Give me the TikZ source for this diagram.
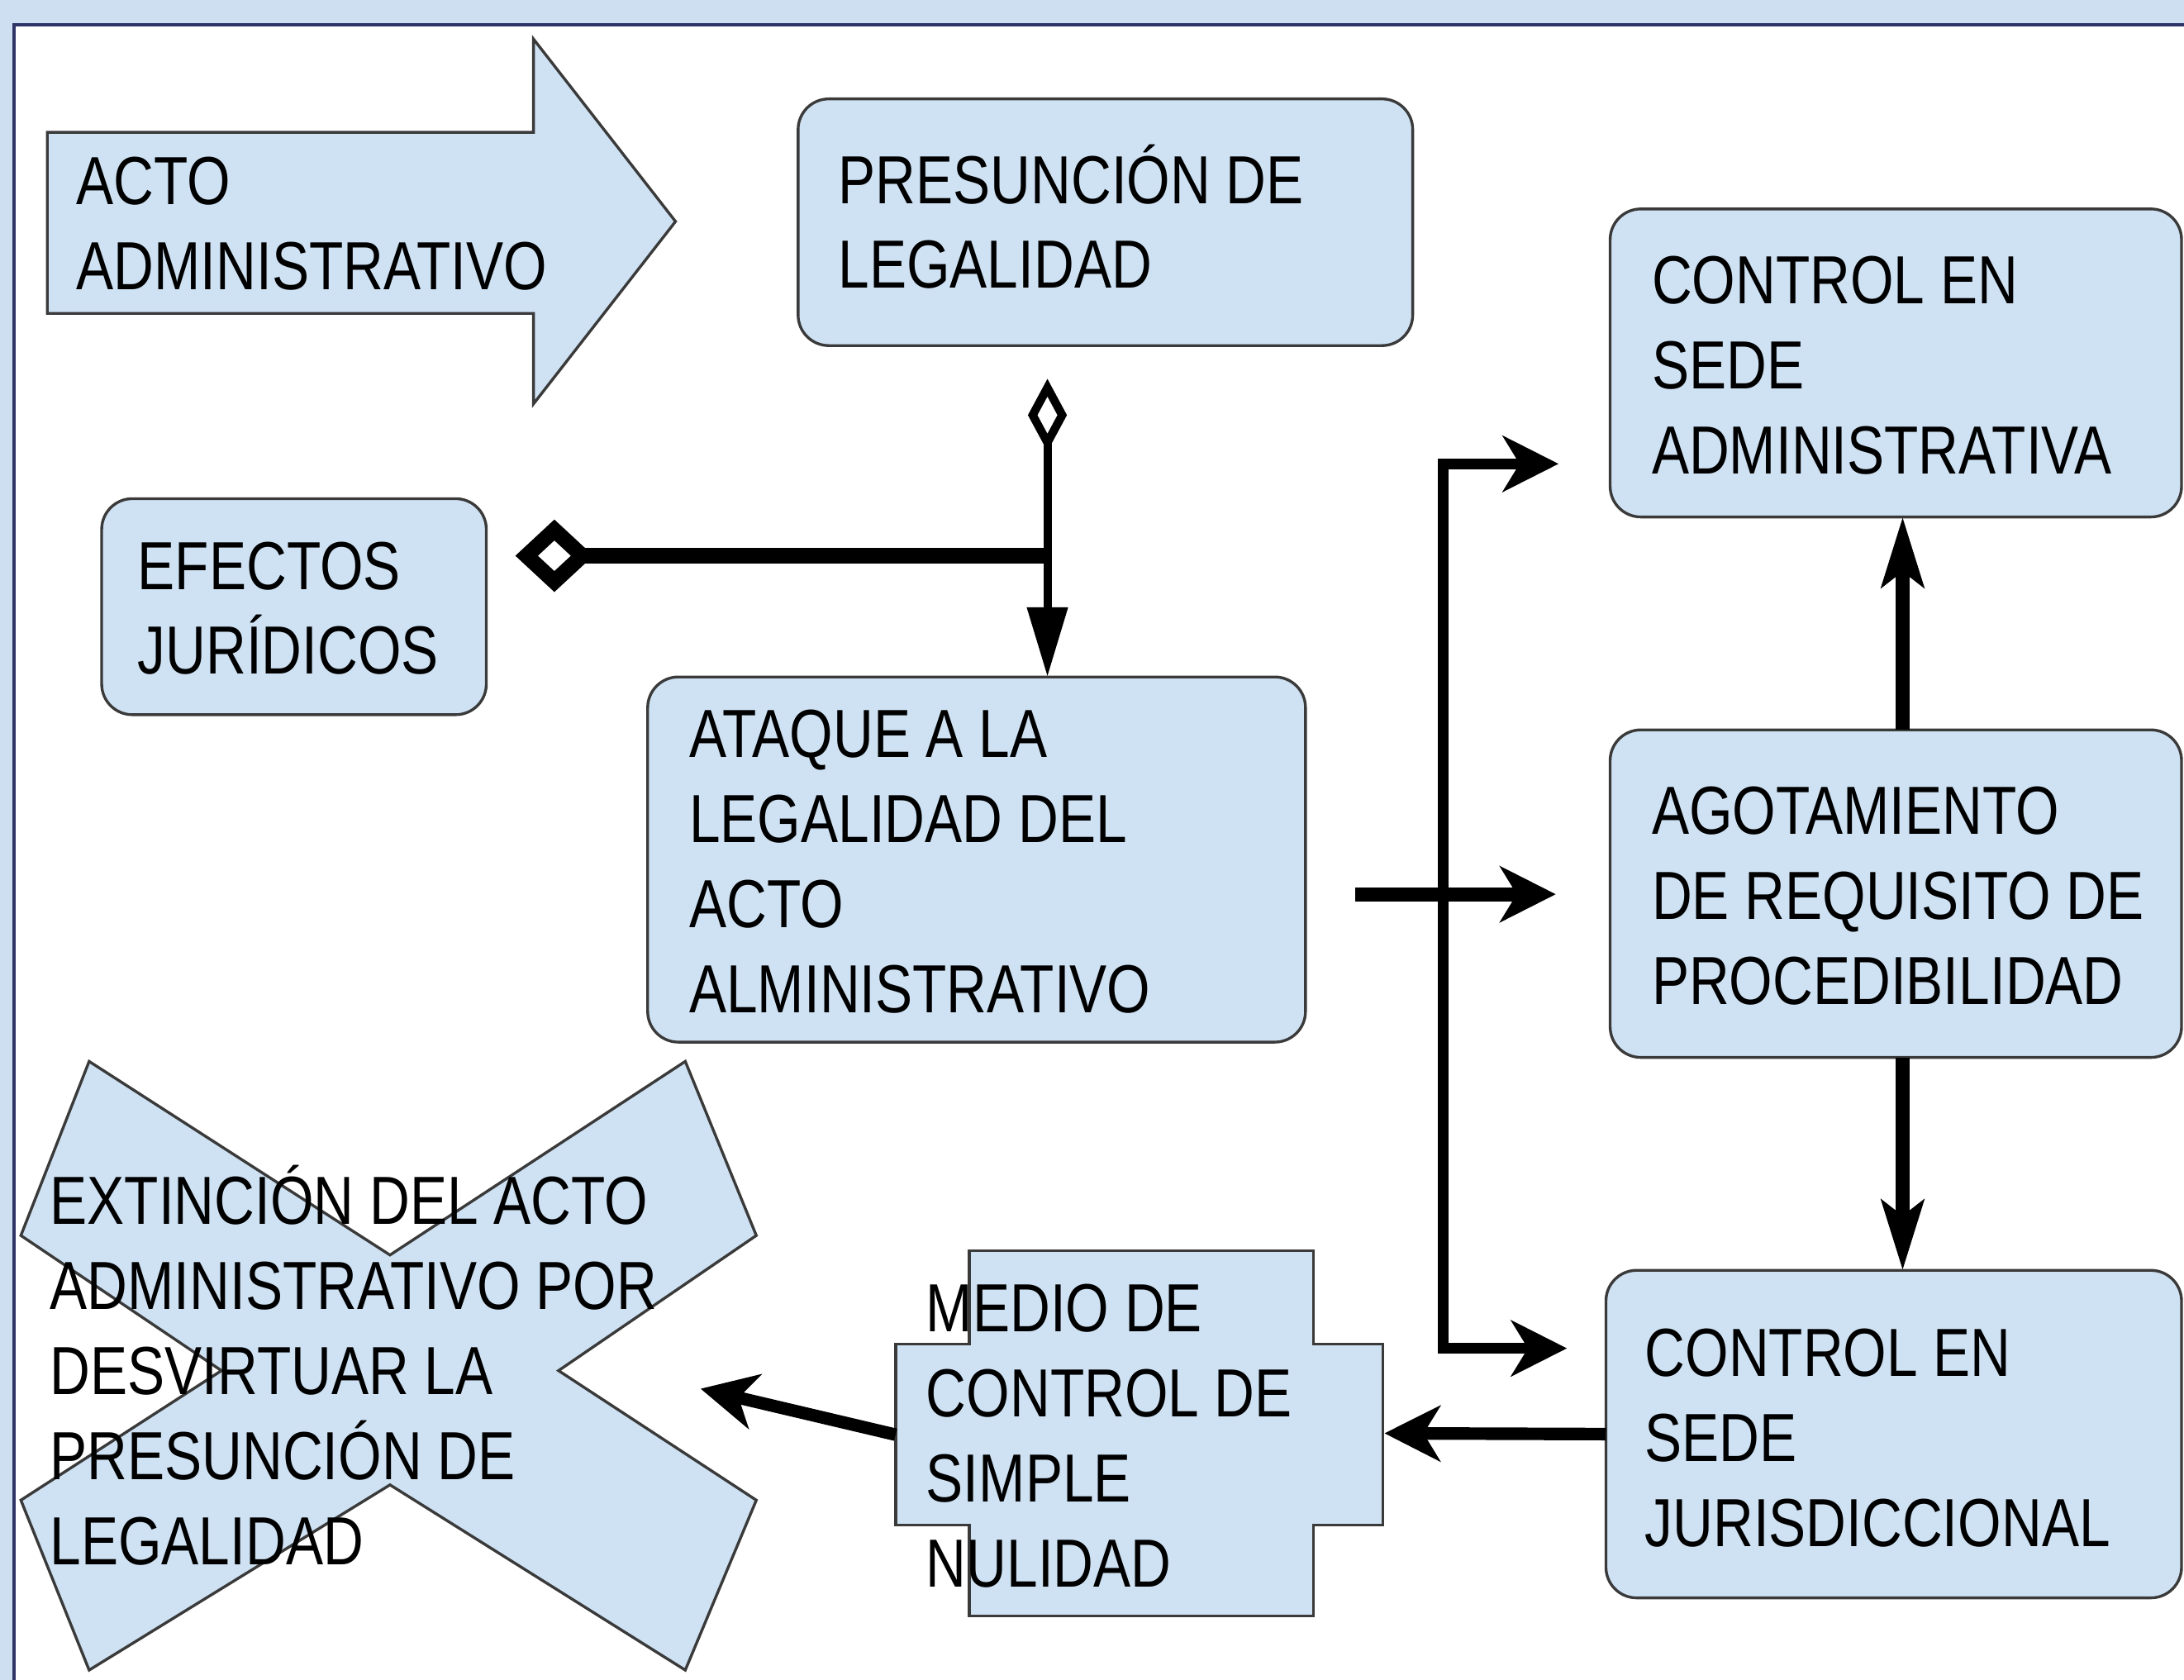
\documentclass[tikz,border=0pt]{standalone}
\usepackage{fontspec}
\setmainfont{Liberation Sans}[FakeStretch=0.82]
\usetikzlibrary{arrows.meta,calc}
\definecolor{boxfill}{HTML}{CFE2F3}
\definecolor{boxline}{HTML}{3A3A3A}
\definecolor{bgblue}{HTML}{CDDFF1}
\definecolor{navy}{HTML}{2E3566}
\newcommand\tlines[1]{\parbox[t]{8cm}{\fontsize{13.9pt}{17.36pt}\selectfont #1}}
\tikzset{
  HS/.tip={Stealth[length=0.40cm,width=0.40cm,inset=0.12cm]},
  VS/.tip={Stealth[length=0.50cm,width=0.30cm,inset=0.11cm]},
  DT/.tip={Diamond[open,length=0.52cm,width=0.28cm]},
  DL/.tip={Diamond[open,length=0.56cm,width=0.52cm]},
  TR/.tip={Triangle[length=0.50cm,width=0.28cm]}
}
\begin{document}
\begin{tikzpicture}[x=0.01cm, y=-0.01cm, line join=miter,
  shapeline/.style={fill=boxfill, draw=boxline, line width=0.02cm},
  rbox/.style={shapeline, rounded corners=0.22cm, inner sep=0pt, outer sep=0pt, anchor=north west},
  lbl/.style={anchor=base west, inner sep=0pt, outer sep=0pt, text=black},
  conn/.style={draw=black, line width=0.08cm}]
\useasboundingbox (0,0) rectangle (1568,1206);
% background
\fill[bgblue] (0,0) rectangle (1568,1206);
\fill[white] (10,18) rectangle (1568,1206);
\draw[navy, line width=0.025cm] (10,1206) -- (10,18) -- (1568,18);

% acto arrow
\draw[shapeline] (34,95) -- (383,95) -- (383,28) -- (485,159) -- (383,290) -- (383,225) -- (34,225) -- cycle;

% rounded boxes
\node[rbox, minimum width=4.41cm, minimum height=1.77cm] (pres) at (573,71) {};
\node[rbox, minimum width=4.10cm, minimum height=2.21cm] (cadm) at (1156,150) {};
\node[rbox, minimum width=2.76cm, minimum height=1.55cm] (efec) at (73,358) {};
\node[rbox, minimum width=4.72cm, minimum height=2.62cm] (ataq) at (465,486) {};
\node[rbox, minimum width=4.10cm, minimum height=2.35cm] (agot) at (1156,524) {};
\node[rbox, minimum width=4.13cm, minimum height=2.35cm] (juri) at (1153,912) {};

% X shape
\draw[shapeline] (64,762) -- (280,901) -- (492,762) -- (543,887) -- (401,984) -- (543,1077)
  -- (492,1199) -- (280,1066) -- (64,1199) -- (15,1077) -- (159,984) -- (15,887) -- cycle;

% plus shape
\draw[shapeline] (696,898) -- (943,898) -- (943,965) -- (993,965) -- (993,1095) -- (943,1095)
  -- (943,1160) -- (696,1160) -- (696,1095) -- (643,1095) -- (643,965) -- (696,965) -- cycle;

% texts
\node[lbl] (tacto) at (55,147) {\tlines{ACTO\\ADMINISTRATIVO}};
\node[lbl] (tpres) at (602,146) {\tlines{PRESUNCIÓN DE\\LEGALIDAD}};
\node[lbl] (tcadm) at (1186,218) {\tlines{CONTROL EN\\SEDE\\ADMINISTRATIVA}};
\node[lbl] (tefec) at (99,423) {\tlines{EFECTOS\\JURÍDICOS}};
\node[lbl] (tataq) at (495,544) {\tlines{ATAQUE A LA\\LEGALIDAD DEL\\ACTO\\ALMINISTRATIVO}};
\node[lbl] (tagot) at (1186,599) {\tlines{AGOTAMIENTO\\DE REQUISITO DE\\PROCEDIBILIDAD}};
\node[lbl] (tjuri) at (1181,988) {\tlines{CONTROL EN\\SEDE\\JURISDICCIONAL}};
\node[lbl] (tmedi) at (665,956) {\tlines{MEDIO DE\\CONTROL DE\\SIMPLE\\NULIDAD}};
\node[lbl] (text) at (36,879) {\tlines{EXTINCIÓN DEL ACTO\\ADMINISTRATIVO POR\\DESVIRTUAR LA\\PRESUNCIÓN DE\\LEGALIDAD}};

% connectors
\coordinate (dtop) at (752,272);
\draw[conn, line width=0.06cm, DT-TR] (dtop) -- (ataq.north -| dtop);
\coordinate (dleft) at (370,399);
\draw[conn, line width=0.11cm, DL-] (dleft) -- (dleft -| dtop);

\coordinate (ta) at (1119,333);
\coordinate (bt) at (1036,333);
\coordinate (bb) at (1036,968);
\coordinate (tj) at (1125,968);
\draw[conn, HS-HS] (ta) -- (bt) -- (bb) -- (tj);

\coordinate (ms) at (973,642);
\coordinate (mt) at (1117,642);
\draw[conn, line width=0.10cm, -HS] (ms) -- (mt);

\coordinate (vx) at (1366,0);
\draw[conn, line width=0.10cm, -VS] (agot.north -| vx) -- (cadm.south -| vx);
\draw[conn, line width=0.10cm, -VS] (agot.south -| vx) -- (juri.north -| vx);

\coordinate (me) at (994,1029);
\draw[conn, line width=0.09cm, -HS] (juri.west) -- (me);
\coordinate (mw) at (643,1030);
\coordinate (et) at (503,997);
\draw[conn, line width=0.09cm, -HS] (mw) -- (et);
\end{tikzpicture}
\end{document}
